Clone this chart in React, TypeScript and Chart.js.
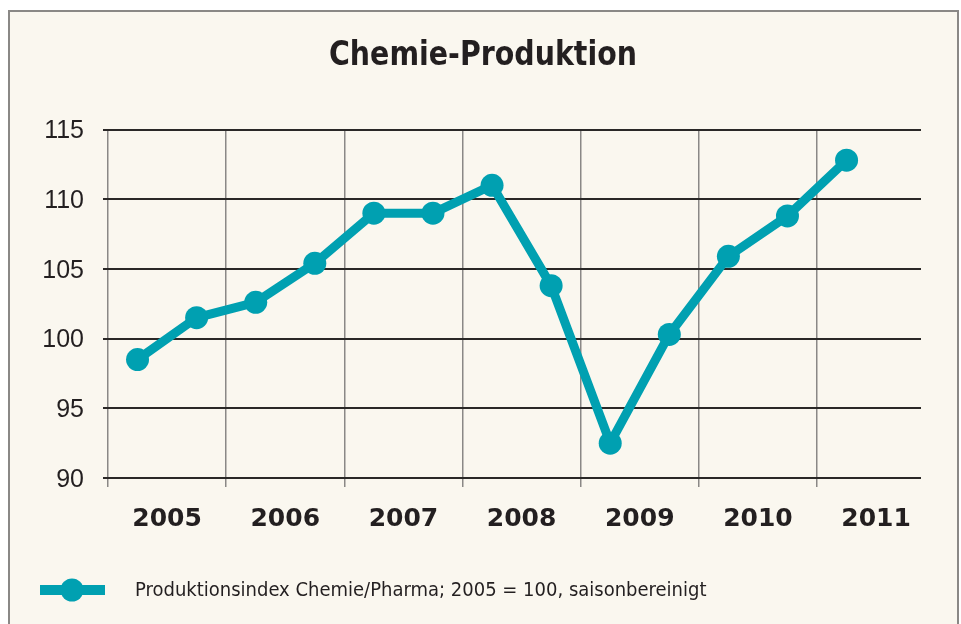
import React, { useEffect, useRef } from "react";
import { Chart, registerables } from "chart.js";

Chart.register(...registerables);

const TITLE = "Chemie-Produktion";
const LEGEND_LABEL = "Produktionsindex Chemie/Pharma; 2005 = 100, saisonbereinigt";
const YEARS = [2005, 2006, 2007, 2008, 2009, 2010, 2011];
// half-year values (first half, second half per year), production index 2005 = 100
const VALUES = [98.5, 101.5, 102.6, 105.4, 109.0, 109.0, 111.0, 103.8, 92.5, 100.3, 105.9, 108.8, 112.8];
const Y_MIN = 90;
const Y_MAX = 115;
const Y_STEP = 5;

const TEAL = "#00a0b1";
const TEXT = "#231f20";
const CREAM = "#faf7ef";

const titlePlugin = {
  id: "customTitle",
  afterDraw(chart: any) {
    const ctx = chart.ctx;
    ctx.save();
    ctx.fillStyle = TEXT;
    ctx.font = "bold 34px 'DejaVu Sans Condensed', 'DejaVu Sans', sans-serif";
    ctx.textAlign = "center";
    ctx.textBaseline = "middle";
    ctx.translate(483, 56);
    ctx.scale(0.93, 1);
    ctx.fillText(TITLE, 0, 0);
    ctx.restore();
  },
};

const legendPlugin = {
  id: "customLegend",
  afterDraw(chart: any) {
    const ctx = chart.ctx;
    const y = 590;
    ctx.save();
    ctx.strokeStyle = TEAL;
    ctx.lineWidth = 10;
    ctx.beginPath();
    ctx.moveTo(40, y);
    ctx.lineTo(105, y);
    ctx.stroke();
    ctx.fillStyle = TEAL;
    ctx.beginPath();
    ctx.arc(72, y, 11.5, 0, Math.PI * 2);
    ctx.fill();
    ctx.fillStyle = TEXT;
    ctx.font = "20px 'Liberation Sans Narrow', 'DejaVu Sans Condensed', sans-serif";
    ctx.textBaseline = "middle";
    ctx.textAlign = "left";
    ctx.fillText(LEGEND_LABEL, 135, y + 1);
    ctx.restore();
  },
};

export default function App() {
  const ref = useRef<HTMLCanvasElement | null>(null);

  useEffect(() => {
    if (!ref.current) return;
    const points = VALUES.map((v, i) => ({ x: YEARS[0] + Math.floor(i / 2) + (i % 2 === 0 ? 0.25 : 0.75), y: v }));
    const chart = new Chart(ref.current, {
      type: "line",
      data: {
        datasets: [
          {
            label: LEGEND_LABEL,
            data: points,
            borderColor: TEAL,
            backgroundColor: TEAL,
            borderWidth: 9,
            pointRadius: 11.5,
            pointHoverRadius: 11.5,
            pointBackgroundColor: TEAL,
            pointBorderWidth: 0,
            tension: 0,
            borderJoinStyle: "round",
          },
        ],
      },
      options: {
        animation: false,
        responsive: false,
        devicePixelRatio: 1,
        layout: { padding: { left: 0, right: 40, top: 129.5, bottom: 0 } },
        plugins: {
          legend: { display: false },
          tooltip: { enabled: false },
          title: { display: false },
        },
        scales: {
          x: {
            type: "linear",
            min: YEARS[0],
            max: 2011.88,
            afterBuildTicks(scale: any) {
              const t: any[] = [];
              YEARS.forEach((y) => {
                t.push({ value: y });
                t.push({ value: y + 0.5 });
              });
              scale.ticks = t;
            },
            afterFit(scale: any) {
              scale.height = 146;
            },
            border: { display: false },
            grid: {
              color: (c: any) => (c.tick && c.tick.value % 1 === 0 ? "#8a8886" : "rgba(0,0,0,0)"),
              tickColor: (c: any) => (c.tick && c.tick.value % 1 === 0 ? "#8a8886" : "rgba(0,0,0,0)"),
              lineWidth: 1.5,
              tickLength: 9,
            },
            ticks: {
              autoSkip: false,
              maxRotation: 0,
              padding: 17,
              color: TEXT,
              font: { family: "'DejaVu Sans', sans-serif", size: 25, weight: "bold" },
              callback: (v: any) => (Number(v) % 1 === 0.5 ? String(Math.floor(Number(v))) : ""),
            },
          },
          y: {
            min: Y_MIN,
            max: Y_MAX,
            afterFit(scale: any) {
              scale.width = 108;
            },
            border: { display: false },
            grid: { color: "#2a2827", lineWidth: 2, tickLength: 5 },
            ticks: {
              stepSize: Y_STEP,
              padding: 19,
              labelOffset: 2,
              color: TEXT,
              font: { family: "'Liberation Sans', Arial, sans-serif", size: 25 },
            },
          },
        },
      },
      plugins: [titlePlugin, legendPlugin],
    } as any);
    return () => chart.destroy();
  }, []);

  return (
    <div style={{ position: "fixed", left: 0, top: 0, width: 961, height: 624, background: "#ffffff", overflow: "hidden" }}>
      <div
        style={{
          position: "absolute",
          left: 8,
          top: 10,
          width: 947,
          height: 640,
          border: "2px solid #8a8886",
          background: CREAM,
        }}
      />
      <canvas ref={ref} width={961} height={624} style={{ position: "absolute", left: 0, top: 0, width: 961, height: 624 }} />
    </div>
  );
}
